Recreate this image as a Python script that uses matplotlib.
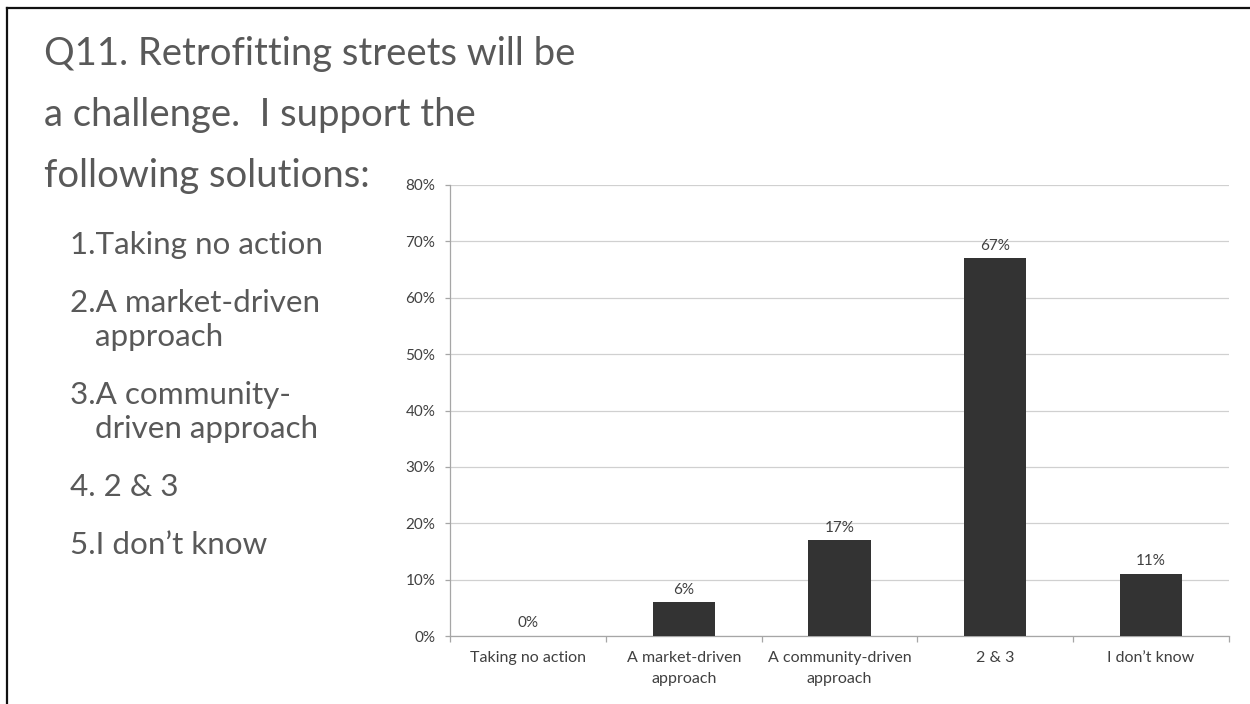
import matplotlib.pyplot as plt
from matplotlib.lines import Line2D
from matplotlib.ticker import FixedLocator


W, H = 1250, 704

TITLE_LINES = ['Q11. Retrofitting streets will be',
               'a challenge.  I support the',
               'following solutions:']
OPTION_LINES = [['1.Taking no action'],
                ['2.A market-driven', 'approach'],
                ['3.A community-', 'driven approach'],
                ['4. 2 & 3'],
                ['5.I don\u2019t know']]

CATEGORIES = ['Taking no action', 'A market-driven\napproach',
              'A community-driven\napproach', '2 & 3', 'I don\u2019t know']
PERCENTS = [0, 6, 17, 67, 11]
Y_TICKS = [0, 10, 20, 30, 40, 50, 60, 70, 80]

TEXT_GREY = '#595959'
LABEL_GREY = '#404040'
BAR_COLOR = '#333333'


def fx(px):
    return px / W


def fy(py):
    return 1 - py / H


def main() -> None:
    plt.rcParams['font.family'] = ['Lato', 'DejaVu Sans']

    fig = plt.figure(figsize=(W / 100, H / 100), dpi=100)
    fig.patch.set_facecolor('white')

    # slide frame: left and top edges only
    fig.add_artist(Line2D([fx(6.5), fx(6.5)], [0, fy(8)], transform=fig.transFigure,
                          color='#111111', linewidth=1.6))
    fig.add_artist(Line2D([fx(6.5), 1], [fy(8), fy(8)], transform=fig.transFigure,
                          color='#111111', linewidth=1.6))

    # title block
    for i, line in enumerate(TITLE_LINES):
        fig.text(fx(44), fy(65 + i * 61), line, fontsize=27.5, color=TEXT_GREY,
                 va='baseline', ha='left')

    # numbered list of options
    y = 254
    for item in OPTION_LINES:
        for j, line in enumerate(item):
            x = 70 if j == 0 else 95
            fig.text(fx(x), fy(y), line, fontsize=22.6, color=TEXT_GREY,
                     va='baseline', ha='left')
            y += 34
        y += 24

    ax = fig.add_axes([fx(450), fy(636), fx(1229) - fx(450), fy(185) - fy(636)])
    x = range(len(CATEGORIES))
    bars = ax.bar(x, PERCENTS, width=0.4, color=BAR_COLOR, zorder=3)
    ax.bar_label(bars, labels=['{}%'.format(v) for v in PERCENTS], padding=4,
                 fontsize=11, color=LABEL_GREY)

    ax.set_xlim(-0.5, len(CATEGORIES) - 0.5)
    ax.set_ylim(0, 80)
    ax.set_yticks(Y_TICKS)
    ax.set_yticklabels(['{}%'.format(t) for t in Y_TICKS])
    ax.set_xticks(list(x))
    ax.set_xticklabels(CATEGORIES, linespacing=1.6)
    ax.xaxis.set_minor_locator(FixedLocator([i + 0.5 for i in range(-1, len(CATEGORIES))]))

    ax.grid(axis='y', color='#d0d0d0', linewidth=0.9, zorder=0)
    ax.set_axisbelow(True)
    for side in ('top', 'right'):
        ax.spines[side].set_visible(False)
    for side in ('left', 'bottom'):
        ax.spines[side].set_color('#a6a6a6')
        ax.spines[side].set_linewidth(0.9)

    ax.tick_params(axis='y', length=3.5, width=0.9, color='#a6a6a6', pad=7,
                   labelsize=11, labelcolor=LABEL_GREY)
    ax.tick_params(axis='x', which='major', length=0, pad=11,
                   labelsize=11.5, labelcolor=LABEL_GREY)
    ax.tick_params(axis='x', which='minor', length=4, width=0.9, color='#a6a6a6')

    fig.savefig('out.png', dpi=100, facecolor='white')


if __name__ == '__main__':
    main()
